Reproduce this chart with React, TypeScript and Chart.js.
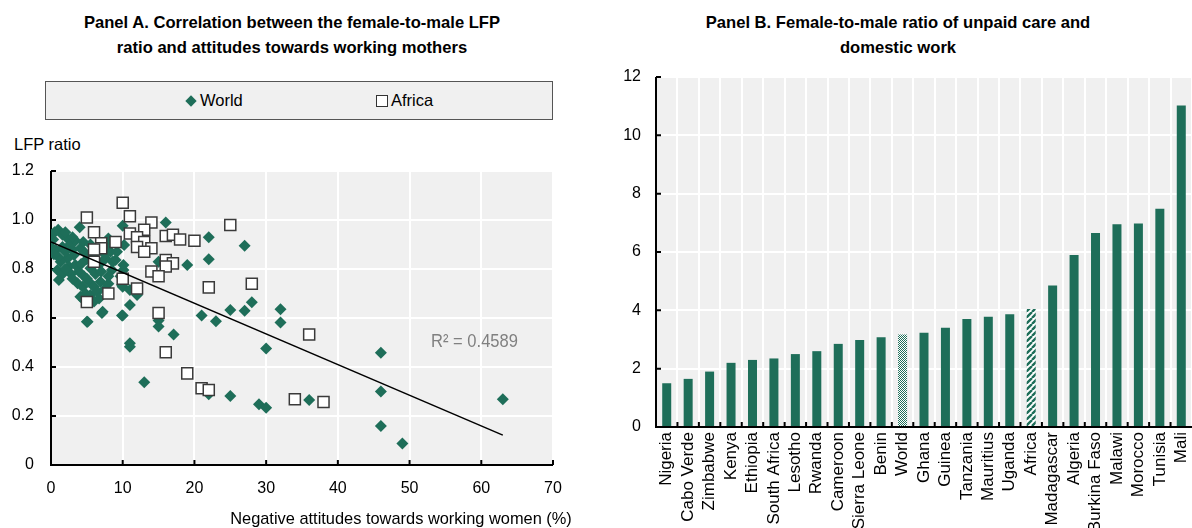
import React, { useEffect, useRef } from 'react';
import { Chart, registerables } from 'chart.js';

Chart.register(...registerables);

const FONT = "'Liberation Sans', Arial, sans-serif";
const GREEN = '#1e6e59';
const PANEL_BG = '#f0f0f0';

// Panel A: female-to-male LFP ratio vs. share with negative attitudes (%)
const worldPoints: [number, number][] = [
  // dense group of low-attitude countries
  [0.0, 0.94], [1.0, 0.96], [1.6, 0.94], [0.3, 0.92], [0.0, 0.89], [0.65, 0.878],
  [1.6, 0.89], [2.3, 0.925], [2.65, 0.9], [3.4, 0.915], [4.1, 0.885], [4.8, 0.864],
  [3.2, 0.857], [2.3, 0.843], [1.35, 0.83], [0.9, 0.796], [1.6, 0.78], [1.1, 0.755],
  [2.5, 0.81], [3.4, 0.816], [3.9, 0.79], [4.6, 0.77], [5.5, 0.803], [6.2, 0.78],
  [6.9, 0.823], [7.6, 0.843], [8.3, 0.87], [3.7, 0.742], [4.4, 0.728], [5.3, 0.748],
  [6.0, 0.728], [6.9, 0.748], [7.6, 0.721], [4.8, 0.7], [5.5, 0.694], [6.5, 0.707],
  [4.1, 0.687], [4.6, 0.673], [6.0, 0.667], [6.7, 0.68], [9.7, 0.77], [9.9, 0.735],
  [8.5, 0.796], [7.2, 0.626], [5.1, 0.585], [9.9, 0.61],
  [0.5, 0.95], [2.0, 0.95], [3.0, 0.93], [4.5, 0.91], [5.5, 0.9], [6.0, 0.88],
  [7.0, 0.89], [5.0, 0.84], [6.0, 0.85], [7.5, 0.86], [2.0, 0.87], [3.0, 0.88],
  [1.0, 0.85], [0.4, 0.86], [2.8, 0.78], [2.0, 0.8], [3.0, 0.76], [5.0, 0.76],
  [4.2, 0.82], [8.0, 0.74], [7.0, 0.79], [8.6, 0.83], [9.2, 0.87], [7.8, 0.9],
  [8.0, 0.925],
  // remaining countries
  [4.0, 0.97], [10.0, 0.977], [16.0, 0.99], [22.0, 0.93], [27.0, 0.895], [22.0, 0.84],
  [19.0, 0.816], [15.0, 0.83], [9.0, 0.837], [10.1, 0.816], [8.0, 0.77], [10.0, 0.728],
  [12.0, 0.694], [11.0, 0.653], [7.1, 0.62], [10.0, 0.61], [5.0, 0.585], [15.0, 0.59],
  [15.0, 0.565], [17.1, 0.533], [21.0, 0.61], [23.0, 0.587], [25.0, 0.633], [27.0, 0.63],
  [28.0, 0.664], [32.0, 0.636], [32.0, 0.582], [30.0, 0.476], [11.0, 0.497], [11.0, 0.483],
  [13.0, 0.338], [22.0, 0.289], [25.0, 0.282], [29.0, 0.248], [30.0, 0.234], [36.0, 0.265],
  [46.0, 0.458], [46.0, 0.3], [46.0, 0.159], [49.0, 0.088], [63.0, 0.268],
  [10.2, 0.898], [10.1, 0.796], [11.0, 0.714],
];

const africaPoints: [number, number][] = [
  [5.0, 1.01], [10.0, 1.07], [11.0, 1.015], [14.0, 0.99], [25.0, 0.98], [6.0, 0.95],
  [11.0, 0.945], [13.0, 0.96], [12.0, 0.93], [13.0, 0.91], [16.0, 0.935], [17.0, 0.94],
  [18.0, 0.92], [20.0, 0.915], [9.0, 0.91], [7.0, 0.905], [7.0, 0.885], [6.0, 0.88],
  [12.0, 0.89], [14.0, 0.885], [13.0, 0.87], [6.0, 0.83], [16.0, 0.837], [17.0, 0.823],
  [16.0, 0.81], [14.0, 0.79], [15.0, 0.77], [10.0, 0.76], [22.0, 0.725], [12.0, 0.72],
  [8.0, 0.7], [5.0, 0.665], [15.0, 0.62], [28.0, 0.74], [36.0, 0.533], [16.0, 0.46],
  [19.0, 0.374], [21.0, 0.313], [22.0, 0.306], [34.0, 0.268], [38.0, 0.257],
];

// Linear fit through the world sample (end points of the drawn segment)
const trendLine: [number, number][] = [[0, 0.91], [63, 0.122]];
const rSquaredText = 'R² = 0.4589';
const rSquaredAt: [number, number] = [53, 0.502];

const xTitleA = 'Negative attitudes towards working women (%)';
const yTitleA = 'LFP ratio';
const titleA = ['Panel A. Correlation between the female-to-male LFP', 'ratio and attitudes towards working mothers'];

// Panel B: female-to-male ratio of unpaid care and domestic work
const countries = [
  'Nigeria', 'Cabo Verde', 'Zimbabwe', 'Kenya', 'Ethiopia', 'South Africa', 'Lesotho',
  'Rwanda', 'Cameroon', 'Sierra Leone', 'Benin', 'World', 'Ghana', 'Guinea', 'Tanzania',
  'Mauritius', 'Uganda', 'Africa', 'Madagascar', 'Algeria', 'Burkina Faso', 'Malawi',
  'Morocco', 'Tunisia', 'Mali',
];
const careRatios = [
  1.5, 1.65, 1.9, 2.2, 2.3, 2.35, 2.5,
  2.6, 2.85, 2.98, 3.08, 3.17, 3.23, 3.4, 3.7,
  3.78, 3.87, 4.05, 4.85, 5.9, 6.65, 6.95,
  6.98, 7.48, 11.02,
];
const titleB = ['Panel B. Female-to-male ratio of unpaid care and', 'domestic work'];

Chart.defaults.font.family = FONT;
Chart.defaults.font.size = 16;
Chart.defaults.color = '#000';

type TickFn = (chart: any) => { x: number[]; y: number[] };

// Keep the plot area exactly where the layout padding puts it
const fixWidth = (w: number) => (s: any) => {
  s.width = w;
  s.paddingTop = 0;
  s.paddingBottom = 0;
};
const fixHeight = (h: number) => (s: any) => {
  s.height = h;
  s.paddingLeft = 0;
  s.paddingRight = 0;
};

// Light panel background plus black left/bottom axes with inward tick marks
function framePlugin(tickPixels: TickFn) {
  return {
    id: 'frame',
    beforeDraw(chart: any) {
      const { ctx, chartArea: a } = chart;
      ctx.save();
      ctx.fillStyle = PANEL_BG;
      ctx.fillRect(a.left, a.top, a.right - a.left, a.bottom - a.top);
      ctx.restore();
    },
    beforeDatasetsDraw(chart: any) {
      const { ctx, chartArea: a } = chart;
      const t = tickPixels(chart);
      ctx.save();
      ctx.strokeStyle = '#000';
      ctx.lineWidth = 2;
      ctx.beginPath();
      ctx.moveTo(a.left, a.top);
      ctx.lineTo(a.left, a.bottom);
      ctx.lineTo(a.right, a.bottom);
      for (const py of t.y) {
        ctx.moveTo(a.left, py);
        ctx.lineTo(a.left + 5, py);
      }
      for (const px of t.x) {
        ctx.moveTo(px, a.bottom);
        ctx.lineTo(px, a.bottom - 5);
      }
      ctx.stroke();
      ctx.restore();
    },
  };
}

function stripePattern(ctx: CanvasRenderingContext2D) {
  const c = document.createElement('canvas');
  c.width = 6;
  c.height = 6;
  const g = c.getContext('2d')!;
  g.fillStyle = '#ffffff';
  g.fillRect(0, 0, 6, 6);
  g.strokeStyle = GREEN;
  g.lineWidth = 2.4;
  g.beginPath();
  for (let k = -6; k <= 12; k += 6) {
    g.moveTo(k, 6);
    g.lineTo(k + 6, 0);
  }
  g.stroke();
  return ctx.createPattern(c, 'repeat');
}

function checkerPattern(ctx: CanvasRenderingContext2D) {
  const c = document.createElement('canvas');
  c.width = 2;
  c.height = 2;
  const g = c.getContext('2d')!;
  g.fillStyle = '#ffffff';
  g.fillRect(0, 0, 2, 2);
  g.fillStyle = GREEN;
  g.fillRect(0, 0, 1, 1);
  g.fillRect(1, 1, 1, 1);
  return ctx.createPattern(c, 'repeat');
}

function ScatterPanel() {
  const ref = useRef<HTMLCanvasElement>(null);
  useEffect(() => {
    const canvas = ref.current!;
    const labels = {
      id: 'labelsA',
      afterDraw(chart: any) {
        const { ctx, scales } = chart;
        ctx.save();
        ctx.font = `19px ${FONT}`;
        ctx.fillStyle = '#808080';
        ctx.textAlign = 'left';
        ctx.textBaseline = 'middle';
        const rx = scales.x.getPixelForValue(rSquaredAt[0]);
        const ry = scales.y.getPixelForValue(rSquaredAt[1]);
        ctx.translate(rx, ry);
        ctx.scale(0.87, 1);
        ctx.fillText(rSquaredText, 0, 0);
        ctx.restore();
        ctx.save();
        ctx.font = `16.4px ${FONT}`;
        ctx.fillStyle = '#000';
        ctx.textAlign = 'center';
        ctx.textBaseline = 'alphabetic';
        ctx.fillText(xTitleA, 401, 364);
        ctx.restore();
      },
    };
    const chart = new Chart(canvas, {
      type: 'scatter',
      data: {
        datasets: [
          {
            label: 'Trend',
            data: trendLine.map(([x, y]) => ({ x, y })),
            showLine: true,
            borderColor: '#000',
            borderWidth: 1.5,
            pointRadius: 0,
            order: 0,
          },
          {
            label: 'Africa',
            data: africaPoints.map(([x, y]) => ({ x, y })),
            pointStyle: 'rect',
            pointRadius: 7.8,
            backgroundColor: '#ffffff',
            borderColor: '#3a3a3a',
            borderWidth: 1.5,
            order: 1,
          },
          {
            label: 'World',
            data: worldPoints.map(([x, y]) => ({ x, y })),
            pointStyle: 'rectRot',
            pointRadius: 6,
            backgroundColor: GREEN,
            borderColor: GREEN,
            borderWidth: 0,
            order: 2,
          },
        ],
      } as any,
      options: {
        animation: false,
        responsive: false,
        maintainAspectRatio: false,
        layout: { padding: { top: 11, right: 47, left: 0, bottom: 0 } },
        plugins: { legend: { display: false }, tooltip: { enabled: false } },
        scales: {
          x: {
            type: 'linear',
            min: 0,
            max: 70,
            ticks: { stepSize: 10, padding: 14, color: '#000', font: { size: 16 } },
            grid: { color: '#ffffff', lineWidth: 2, drawTicks: false },
            border: { display: false },
            afterFit: fixHeight(63),
          },
          y: {
            min: 0,
            max: 1.2,
            ticks: {
              stepSize: 0.2,
              padding: 17,
              color: '#000',
              font: { size: 16 },
              callback: (v: any) => (Math.abs(v) < 1e-9 ? '0' : Number(v).toFixed(1)),
            },
            grid: { color: '#ffffff', lineWidth: 2, drawTicks: false },
            border: { display: false },
            afterFit: fixWidth(51),
          },
        },
      } as any,
      plugins: [
        framePlugin((c: any) => ({
          x: c.scales.x.ticks.map((t: any) => c.scales.x.getPixelForValue(t.value)),
          y: c.scales.y.ticks.map((t: any) => c.scales.y.getPixelForValue(t.value)),
        })),
        labels,
      ] as any,
    });
    return () => chart.destroy();
  }, []);
  return <canvas ref={ref} width={600} height={368} style={{ position: 'absolute', left: 0, top: 160, width: 600, height: 368 }} />;
}

function BarPanel() {
  const ref = useRef<HTMLCanvasElement>(null);
  useEffect(() => {
    const canvas = ref.current!;
    const ctx = canvas.getContext('2d')!;
    const stripes = stripePattern(ctx);
    const checks = checkerPattern(ctx);
    const colors = countries.map((c) => (c === 'Africa' ? stripes : c === 'World' ? checks : GREEN));
    const chart = new Chart(canvas, {
      type: 'bar',
      data: {
        labels: countries,
        datasets: [
          {
            label: 'Female-to-male ratio',
            data: careRatios,
            backgroundColor: colors,
            borderWidth: 0,
            barPercentage: 0.42,
            categoryPercentage: 1,
          },
        ],
      } as any,
      options: {
        animation: false,
        responsive: false,
        maintainAspectRatio: false,
        layout: { padding: { top: 17, right: 0, left: 0, bottom: 0 } },
        plugins: { legend: { display: false }, tooltip: { enabled: false } },
        scales: {
          x: {
            ticks: { minRotation: 90, maxRotation: 90, autoSkip: false, padding: 5, color: '#000', font: { size: 17 } },
            grid: { color: '#ffffff', lineWidth: 2, drawTicks: false, offset: true },
            border: { display: false },
            afterFit: fixHeight(101),
          },
          y: {
            min: 0,
            max: 12,
            ticks: { stepSize: 2, padding: 15, color: '#000', font: { size: 16 } },
            grid: { color: '#ffffff', lineWidth: 2, drawTicks: false },
            border: { display: false },
            afterFit: fixWidth(56),
          },
        },
      } as any,
      plugins: [
        framePlugin((c: any) => {
          const xs = c.scales.x;
          const half = (xs.getPixelForValue(1) - xs.getPixelForValue(0)) / 2;
          const x: number[] = [];
          for (let i = 1; i < countries.length; i++) x.push(xs.getPixelForValue(i) - half);
          return {
            x,
            y: c.scales.y.ticks.map((t: any) => c.scales.y.getPixelForValue(t.value)),
          };
        }),
      ] as any,
    });
    return () => chart.destroy();
  }, []);
  return <canvas ref={ref} width={592} height={468} style={{ position: 'absolute', left: 600, top: 60, width: 592, height: 468 }} />;
}

const titleStyle: React.CSSProperties = {
  position: 'absolute',
  top: 10,
  fontFamily: FONT,
  fontWeight: 'bold',
  fontSize: 16.6,
  lineHeight: '25px',
  textAlign: 'center',
  color: '#000',
  whiteSpace: 'nowrap',
};

export default function App() {
  return (
    <div style={{ position: 'fixed', left: 0, top: 0, width: 1192, height: 528, background: '#fff', overflow: 'hidden' }}>
      <div style={{ ...titleStyle, left: 0, width: 584 }}>
        {titleA[0]}<br />{titleA[1]}
      </div>
      <div style={{ ...titleStyle, left: 600, width: 596 }}>
        {titleB[0]}<br />{titleB[1]}
      </div>
      <div
        style={{
          position: 'absolute', left: 45, top: 81, width: 506, height: 37,
          background: PANEL_BG, border: '1px solid #555', fontFamily: FONT, fontSize: 16.5,
        }}
      >
        <div style={{ position: 'absolute', left: 141, top: 9, display: 'flex', alignItems: 'center' }}>
          <span style={{ display: 'inline-block', width: 8, height: 8, background: GREEN, transform: 'rotate(45deg)', marginRight: 5 }} />
          <span>World</span>
        </div>
        <div style={{ position: 'absolute', left: 330, top: 9, display: 'flex', alignItems: 'center' }}>
          <span style={{ display: 'inline-block', width: 10, height: 10, background: '#fff', border: '1px solid #333', marginRight: 3 }} />
          <span>Africa</span>
        </div>
      </div>
      <div style={{ position: 'absolute', left: 14, top: 135, fontFamily: FONT, fontSize: 16.5, color: '#000' }}>{yTitleA}</div>
      <ScatterPanel />
      <BarPanel />
    </div>
  );
}
